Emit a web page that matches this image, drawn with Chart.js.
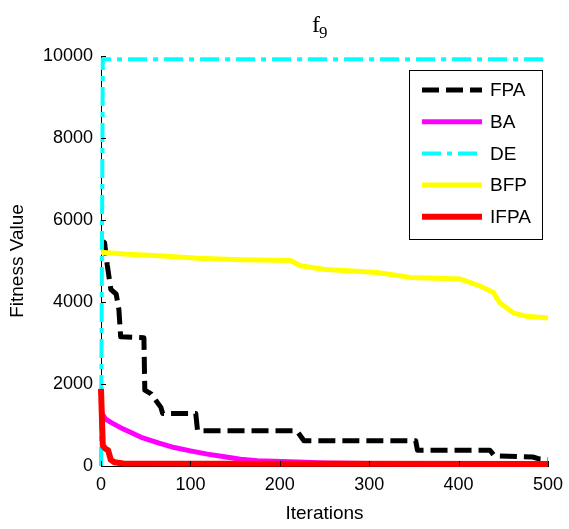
<!DOCTYPE html>
<html>
<head>
<meta charset="utf-8">
<script src="https://cdn.jsdelivr.net/npm/chart.js@4.4.1/dist/chart.umd.min.js"></script>
<style>
  body { margin: 0; background: #fff; }
</style>
</head>
<body>
<canvas id="fitnessChart" width="569" height="529"></canvas>
<script>
// Convergence curves for f9 (iteration, fitness)
const fpaIter = [0, 4, 7, 11, 17, 20, 22, 48, 49, 56, 67, 69, 106, 108, 219, 227, 352, 354, 435, 440, 483, 491, 500];
const fpaVal  = [5500, 5450, 4900, 4310, 4190, 3820, 3150, 3130, 1850, 1760, 1430, 1280, 1280, 860, 860, 615, 615, 385, 385, 250, 220, 170, 160];

const baIter = [0, 2, 5, 11, 25, 45, 65, 82, 100, 119, 140, 156, 175, 193, 220, 250, 300, 500];
const baVal  = [1300, 1250, 1150, 1065, 900, 700, 560, 450, 370, 290, 220, 165, 130, 115, 95, 75, 60, 50];

const deIter = [0, 2, 500];
const deVal  = [0, 9920, 9920];

const bfpIter = [0, 26, 74, 108, 156, 212, 223, 249, 257, 309, 346, 402, 424, 439, 446, 461, 476, 500];
const bfpVal  = [5215, 5170, 5115, 5065, 5030, 5010, 4885, 4800, 4785, 4720, 4600, 4560, 4390, 4230, 3980, 3735, 3650, 3610];

const ifpaIter = [0, 2, 5, 8, 11, 15, 25, 500];
const ifpaVal  = [1880, 500, 420, 380, 150, 90, 60, 50];

const xTicks = [0, 100, 200, 300, 400, 500];
const yTicks = [0, 2000, 4000, 6000, 8000, 10000];

function toPoints(iters, vals) {
    return iters.map((it, i) => ({ x: it, y: vals[i] }));
}

Chart.defaults.font.family = '"Liberation Sans", Arial, sans-serif';
Chart.defaults.color = '#000';

// MATLAB-style title "f" with subscript 9
const titlePlugin = {
    id: 'subTitle',
    afterDraw(chart) {
        const ctx = chart.ctx;
        ctx.save();
        ctx.fillStyle = '#000';
        ctx.textBaseline = 'alphabetic';
        ctx.font = '24px "Liberation Serif", "Times New Roman", serif';
        ctx.fillText('f', 312, 32);
        ctx.font = '17px "Liberation Serif", "Times New Roman", serif';
        ctx.fillText('9', 319, 38);
        ctx.restore();
    }
};

// inward tick marks like MATLAB axes
const tickPlugin = {
    id: 'inTicks',
    afterDatasetsDraw(chart) {
        const ctx = chart.ctx;
        const xs = chart.scales.x, ys = chart.scales.y;
        const area = chart.chartArea;
        ctx.save();
        ctx.strokeStyle = '#000';
        ctx.lineWidth = 1;
        ctx.beginPath();
        xTicks.forEach(v => {
            const px = Math.round(xs.getPixelForValue(v)) + 0.5;
            ctx.moveTo(px, area.bottom);
            ctx.lineTo(px, area.bottom - 5);
        });
        yTicks.forEach(v => {
            const py = Math.round(ys.getPixelForValue(v)) + 0.5;
            ctx.moveTo(area.left, py);
            ctx.lineTo(area.left + 5, py);
        });
        ctx.stroke();
        ctx.restore();
    }
};

// boxed legend inside the plot, top right
const boxLegend = {
    id: 'boxLegend',
    afterDraw(chart) {
        const ctx = chart.ctx;
        const x0 = 409, y0 = 70, w = 133, h = 169;
        ctx.save();
        ctx.fillStyle = '#fff';
        ctx.fillRect(x0, y0, w, h);
        ctx.strokeStyle = '#000';
        ctx.lineWidth = 1;
        ctx.strokeRect(x0 + 0.5, y0 + 0.5, w, h);
        chart.data.datasets.forEach((ds, i) => {
            const y = 90 + i * 31.7;
            ctx.beginPath();
            ctx.strokeStyle = ds.borderColor;
            ctx.lineWidth = ds.borderWidth;
            ctx.setLineDash(ds.borderDash || []);
            ctx.moveTo(422, y);
            ctx.lineTo(482, y);
            ctx.stroke();
            ctx.setLineDash([]);
            ctx.fillStyle = '#000';
            ctx.font = '19px "Liberation Sans", Arial, sans-serif';
            ctx.textBaseline = 'middle';
            ctx.fillText(ds.label, 490, y + 1);
        });
        ctx.restore();
    }
};

const ctx = document.getElementById('fitnessChart').getContext('2d');

new Chart(ctx, {
    type: 'line',
    data: {
        datasets: [
            {
                label: 'FPA',
                data: toPoints(fpaIter, fpaVal),
                borderColor: '#000000',
                borderWidth: 5,
                borderDash: [17, 7],
                order: 5
            },
            {
                label: 'BA',
                data: toPoints(baIter, baVal),
                borderColor: '#ff00ff',
                borderWidth: 5,
                order: 4
            },
            {
                label: 'DE',
                data: toPoints(deIter, deVal),
                borderColor: '#00ffff',
                borderWidth: 4,
                borderDash: [19, 6, 5, 6],
                order: 3
            },
            {
                label: 'BFP',
                data: toPoints(bfpIter, bfpVal),
                borderColor: '#ffff00',
                borderWidth: 5,
                order: 2
            },
            {
                label: 'IFPA',
                data: toPoints(ifpaIter, ifpaVal),
                borderColor: '#ff0000',
                borderWidth: 6,
                order: 1
            }
        ]
    },
    options: {
        responsive: false,
        animation: false,
        clip: false,
        layout: {
            padding: { top: 56, right: 21, left: 0, bottom: 0 }
        },
        elements: {
            point: { radius: 0 },
            line: { tension: 0, borderJoinStyle: 'round', fill: false }
        },
        plugins: {
            legend: { display: false },
            title: { display: false },
            tooltip: { enabled: false }
        },
        scales: {
            x: {
                type: 'linear',
                min: 0,
                max: 500,
                afterFit: (scale) => { scale.height = 63; },
                afterBuildTicks: (scale) => { scale.ticks = xTicks.map(v => ({ value: v })); },
                grid: { display: false },
                border: { display: true, color: '#000', width: 1 },
                ticks: {
                    font: { size: 18 },
                    padding: 0,
                    maxRotation: 0,
                    callback: (v) => String(v)
                },
                title: {
                    display: true,
                    text: 'Iterations',
                    font: { size: 19 },
                    padding: { top: 0, bottom: 4 }
                }
            },
            y: {
                min: 0,
                max: 10000,
                afterFit: (scale) => { scale.width = 101; },
                afterBuildTicks: (scale) => { scale.ticks = yTicks.map(v => ({ value: v })); },
                grid: { display: false },
                border: { display: true, color: '#000', width: 1 },
                ticks: {
                    font: { size: 18 },
                    padding: 0,
                    callback: (v) => String(v)
                },
                title: {
                    display: true,
                    text: 'Fitness Value',
                    font: { size: 19 },
                    padding: { top: 6, bottom: 0 }
                }
            }
        }
    },
    plugins: [titlePlugin, tickPlugin, boxLegend]
});
</script>
</body>
</html>
